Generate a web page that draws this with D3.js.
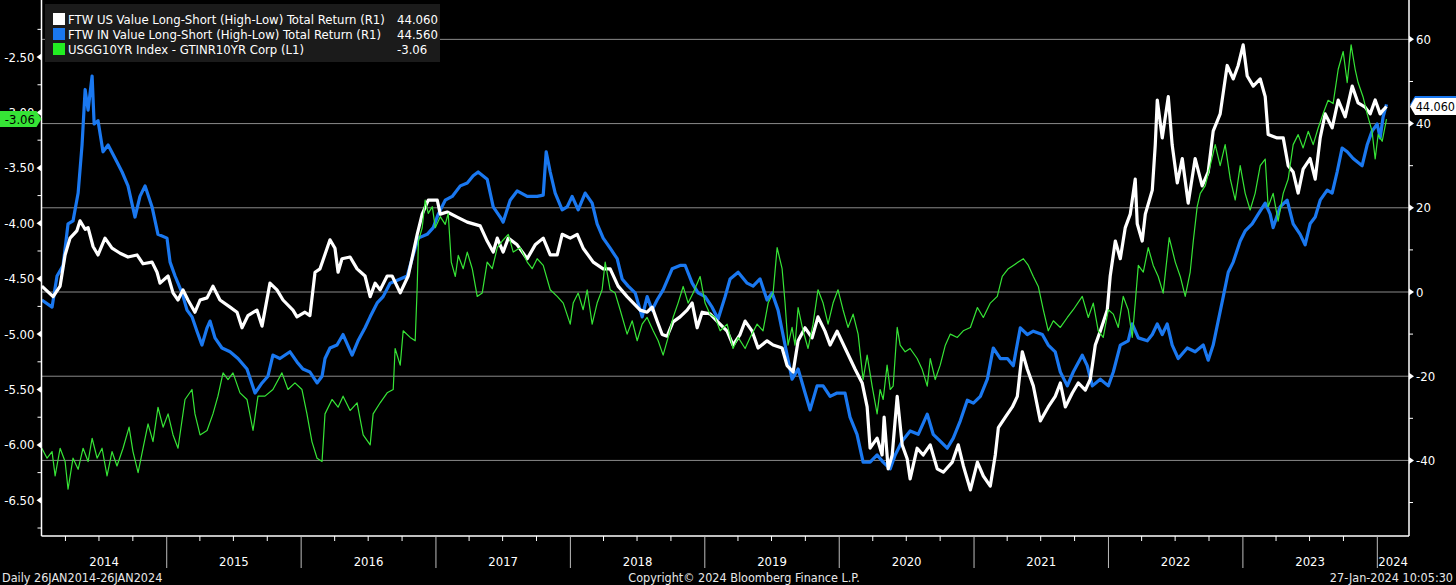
<!DOCTYPE html>
<html>
<head>
<meta charset="utf-8">
<script src="https://cdn.jsdelivr.net/npm/d3@7"></script>
<style>
  html, body { margin: 0; padding: 0; background: #000; }
  svg { display: block; font-family: "DejaVu Sans Condensed", "DejaVu Sans", sans-serif; font-stretch: condensed; }
</style>
</head>
<body>
<script>
// series values, [decimal year, value]
var usData = [
  [2014.071,1.4],[2014.155,-1.1],[2014.207,1.4],[2014.244,8.8],[2014.281,12.8],[2014.331,14.5],[2014.355,16.9],[2014.393,14.9],[2014.415,15.3],[2014.452,10.8],[2014.489,8.8],[2014.541,12.8],[2014.593,10.4],[2014.653,9.2],[2014.712,8.3],[2014.779,8.8],[2014.824,6.7],[2014.891,7.1],[2014.928,4.7],[2014.950,2.1],
  [2015.010,3.8],[2015.047,-0.2],[2015.084,-1.9],[2015.121,0.5],[2015.158,-1.9],[2015.210,-4.8],[2015.248,-1.9],[2015.300,-1.4],[2015.344,1.4],[2015.396,-1.9],[2015.471,-3.6],[2015.523,-4.8],[2015.560,-8.5],[2015.604,-5.6],[2015.671,-4.3],[2015.709,-8.1],[2015.768,2.1],[2015.820,0.5],[2015.865,-1.9],[2015.939,-4.3],[2015.969,-5.9],
  [2016.028,-4.8],[2016.065,-5.6],[2016.103,4.7],[2016.140,5.5],[2016.214,12.4],[2016.251,10.4],[2016.274,4.7],[2016.303,7.9],[2016.363,8.3],[2016.415,5.5],[2016.474,3.8],[2016.512,-1.1],[2016.549,2.1],[2016.586,0.5],[2016.638,3.8],[2016.675,3.8],[2016.735,-0.2],[2016.794,3.8],[2016.861,13.7],[2016.898,18.5],[2016.943,21.8],
  [2017.010,21.8],[2017.032,18.5],[2017.084,19.0],[2017.158,17.8],[2017.233,16.6],[2017.329,15.7],[2017.381,12.1],[2017.426,9.5],[2017.456,12.8],[2017.500,9.5],[2017.538,12.8],[2017.604,11.2],[2017.679,7.9],[2017.738,11.2],[2017.798,12.8],[2017.850,8.8],[2017.902,8.8],[2017.939,13.7],[2017.999,12.8],
  [2018.051,13.7],[2018.095,10.4],[2018.170,7.1],[2018.244,5.5],[2018.296,5.5],[2018.355,1.4],[2018.422,-1.1],[2018.467,-2.6],[2018.519,-4.3],[2018.571,-4.8],[2018.608,-3.6],[2018.645,-6.9],[2018.683,-10.1],[2018.720,-10.5],[2018.764,-7.1],[2018.816,-5.9],[2018.868,-4.3],[2018.906,-2.6],[2018.943,-8.5],[2018.980,-4.8],
  [2019.039,-5.2],[2019.091,-6.9],[2019.166,-9.3],[2019.210,-12.6],[2019.262,-10.1],[2019.300,-6.9],[2019.352,-9.3],[2019.396,-13.3],[2019.463,-11.6],[2019.508,-12.6],[2019.575,-13.3],[2019.612,-17.5],[2019.657,-19.0],[2019.694,-11.6],[2019.746,-8.5],[2019.798,-10.9],[2019.842,-5.9],[2019.894,-9.3],[2019.932,-12.6],[2019.984,-9.3],
  [2020.043,-13.3],[2020.117,-18.3],[2020.170,-21.6],[2020.207,-27.3],[2020.229,-37.1],[2020.281,-34.7],[2020.318,-38.7],[2020.333,-29.7],[2020.363,-42.0],[2020.393,-38.7],[2020.430,-24.8],[2020.467,-36.3],[2020.504,-39.6],[2020.526,-44.4],[2020.578,-37.1],[2020.623,-38.7],[2020.675,-36.3],[2020.727,-42.0],[2020.772,-42.8],[2020.839,-40.4],[2020.883,-36.3],[2020.920,-41.2],[2020.973,-47.0],
  [2021.025,-40.4],[2021.069,-43.7],[2021.121,-46.1],[2021.158,-38.7],[2021.181,-32.2],[2021.233,-29.7],[2021.285,-27.3],[2021.322,-24.8],[2021.359,-14.2],[2021.396,-18.3],[2021.441,-22.3],[2021.493,-30.6],[2021.552,-27.3],[2021.604,-24.8],[2021.642,-21.6],[2021.679,-27.3],[2021.731,-24.0],[2021.775,-21.6],[2021.828,-23.3],[2021.865,-20.7],[2021.902,-12.6],[2021.939,-9.3],[2021.991,-4.3],
  [2022.013,3.8],[2022.051,12.1],[2022.088,7.9],[2022.125,15.3],[2022.162,18.5],[2022.199,26.8],[2022.214,16.2],[2022.251,12.1],[2022.274,18.5],[2022.326,24.2],[2022.348,34.9],[2022.363,45.6],[2022.400,36.6],[2022.445,46.4],[2022.474,34.9],[2022.512,25.9],[2022.549,31.7],[2022.593,21.1],[2022.645,31.7],[2022.697,25.2],[2022.742,28.5],[2022.779,38.2],[2022.831,42.3],[2022.883,53.8],[2022.928,50.6],[2022.965,53.8],
  [2023.002,58.7],[2023.032,51.3],[2023.077,48.9],[2023.129,50.6],[2023.166,46.4],[2023.188,37.4],[2023.255,36.6],[2023.300,36.6],[2023.337,30.0],[2023.374,28.5],[2023.411,23.5],[2023.448,29.2],[2023.500,31.7],[2023.538,26.8],[2023.575,36.6],[2023.612,42.3],[2023.664,39.0],[2023.709,45.6],[2023.761,41.6],[2023.813,48.9],[2023.857,44.9],[2023.909,43.9],[2023.947,42.3],[2023.984,45.6],
  [2024.021,42.3],[2024.043,43.2],[2024.068,44.06]
];

var inData = [
  [2014.071,-1.9],[2014.147,-3.6],[2014.184,3.8],[2014.229,6.3],[2014.266,16.2],[2014.303,16.9],[2014.341,23.5],[2014.370,34.9],[2014.393,48.1],[2014.415,43.2],[2014.445,51.3],[2014.460,39.9],[2014.489,40.7],[2014.526,33.3],[2014.564,34.9],[2014.630,30.9],[2014.668,28.5],[2014.712,25.2],[2014.764,17.8],[2014.801,22.7],[2014.839,25.2],[2014.891,20.2],[2014.935,13.7],
  [2015.002,12.8],[2015.025,7.1],[2015.062,3.8],[2015.114,-0.2],[2015.151,-4.3],[2015.188,-5.9],[2015.225,-9.3],[2015.262,-12.6],[2015.300,-8.5],[2015.322,-6.9],[2015.359,-10.9],[2015.411,-13.3],[2015.471,-14.2],[2015.530,-15.8],[2015.597,-18.3],[2015.657,-24.0],[2015.709,-21.6],[2015.753,-20.0],[2015.790,-15.0],[2015.842,-15.8],[2015.917,-14.2],[2015.969,-16.6],
  [2016.013,-18.3],[2016.065,-19.0],[2016.118,-21.6],[2016.155,-20.0],[2016.177,-15.8],[2016.214,-13.3],[2016.266,-12.6],[2016.311,-10.1],[2016.378,-15.0],[2016.422,-11.6],[2016.474,-8.5],[2016.512,-5.9],[2016.564,-2.6],[2016.608,-1.1],[2016.660,2.1],[2016.735,3.1],[2016.787,3.8],[2016.831,8.8],[2016.868,12.8],[2016.935,13.7],[2016.980,15.3],
  [2017.017,18.5],[2017.069,21.8],[2017.121,22.7],[2017.181,25.2],[2017.233,25.9],[2017.277,27.6],[2017.314,28.5],[2017.381,26.8],[2017.426,20.2],[2017.478,17.8],[2017.500,16.6],[2017.552,21.8],[2017.604,24.0],[2017.679,22.7],[2017.753,22.7],[2017.798,23.0],[2017.820,33.3],[2017.850,28.5],[2017.887,23.5],[2017.939,19.5],[2017.976,20.2],
  [2018.013,22.7],[2018.058,19.5],[2018.110,23.5],[2018.162,21.1],[2018.199,16.2],[2018.244,12.8],[2018.296,10.4],[2018.348,7.9],[2018.385,3.1],[2018.430,1.4],[2018.482,-0.2],[2018.534,-5.9],[2018.571,-1.1],[2018.608,-4.3],[2018.645,-1.9],[2018.690,0.5],[2018.757,5.5],[2018.816,6.3],[2018.854,6.3],[2018.906,2.1],[2018.950,-0.2],
  [2019.002,-1.1],[2019.054,-3.6],[2019.099,-6.4],[2019.151,-1.1],[2019.188,3.1],[2019.248,4.7],[2019.315,2.1],[2019.359,1.4],[2019.411,3.1],[2019.463,-1.9],[2019.500,-0.2],[2019.545,-4.3],[2019.597,-12.6],[2019.649,-20.7],[2019.694,-18.3],[2019.746,-24.0],[2019.783,-28.0],[2019.835,-22.3],[2019.880,-22.3],[2019.932,-24.8],[2019.984,-24.0],
  [2020.043,-24.0],[2020.080,-29.7],[2020.132,-33.8],[2020.177,-40.4],[2020.229,-40.4],[2020.281,-38.7],[2020.326,-40.4],[2020.378,-42.0],[2020.415,-38.7],[2020.467,-35.4],[2020.526,-33.0],[2020.586,-33.8],[2020.653,-29.0],[2020.697,-33.8],[2020.749,-35.4],[2020.801,-37.1],[2020.846,-34.7],[2020.898,-30.6],[2020.950,-25.7],[2020.995,-26.4],
  [2021.047,-24.8],[2021.099,-20.7],[2021.143,-13.3],[2021.196,-15.8],[2021.248,-15.8],[2021.292,-17.5],[2021.344,-8.5],[2021.396,-10.1],[2021.441,-9.3],[2021.508,-10.1],[2021.552,-12.6],[2021.604,-14.2],[2021.642,-19.0],[2021.694,-22.3],[2021.738,-19.0],[2021.805,-15.0],[2021.842,-17.5],[2021.880,-22.3],[2021.939,-20.7],[2021.999,-22.3],
  [2022.036,-19.0],[2022.088,-12.6],[2022.147,-11.6],[2022.177,-7.6],[2022.222,-10.9],[2022.289,-11.6],[2022.326,-10.1],[2022.363,-7.6],[2022.400,-10.1],[2022.437,-7.6],[2022.474,-12.6],[2022.519,-15.8],[2022.586,-13.3],[2022.645,-14.2],[2022.705,-12.6],[2022.742,-16.2],[2022.779,-12.6],[2022.816,-6.9],[2022.854,-1.1],[2022.891,4.7],[2022.928,7.1],[2022.980,12.1],
  [2023.017,14.5],[2023.069,16.2],[2023.114,18.5],[2023.166,21.1],[2023.203,18.5],[2023.225,15.3],[2023.277,20.2],[2023.329,21.8],[2023.374,16.2],[2023.426,13.7],[2023.463,11.2],[2023.500,16.2],[2023.538,17.8],[2023.575,21.8],[2023.627,24.2],[2023.664,23.5],[2023.701,28.5],[2023.738,34.2],[2023.776,33.3],[2023.820,31.7],[2023.887,30.0],[2023.924,34.9],[2023.961,38.2],[2023.999,39.9],
  [2024.021,36.6],[2024.043,41.6],[2024.068,44.56]
];

var yieldData = [
  [2014.071,-6.03],[2014.110,-6.12],[2014.147,-6.06],[2014.170,-6.28],[2014.207,-6.03],[2014.244,-6.15],[2014.266,-6.40],[2014.303,-6.12],[2014.341,-6.22],[2014.378,-6.03],[2014.415,-6.15],[2014.445,-5.94],[2014.482,-6.12],[2014.519,-6.03],[2014.556,-6.28],[2014.593,-6.06],[2014.630,-6.19],[2014.675,-6.03],[2014.720,-5.84],[2014.749,-6.06],[2014.787,-6.25],[2014.824,-6.03],[2014.861,-5.81],[2014.898,-5.97],[2014.935,-5.66],[2014.973,-5.84],
  [2015.010,-5.72],[2015.047,-5.91],[2015.084,-6.03],[2015.136,-5.59],[2015.188,-5.50],[2015.210,-5.72],[2015.248,-5.91],[2015.300,-5.87],[2015.344,-5.72],[2015.381,-5.56],[2015.419,-5.35],[2015.456,-5.41],[2015.493,-5.35],[2015.545,-5.53],[2015.597,-5.59],[2015.642,-5.87],[2015.679,-5.56],[2015.731,-5.56],[2015.790,-5.50],[2015.857,-5.35],[2015.902,-5.50],[2015.954,-5.44],
  [2016.006,-5.50],[2016.043,-5.72],[2016.080,-5.97],[2016.118,-6.12],[2016.155,-6.15],[2016.177,-5.72],[2016.229,-5.59],[2016.274,-5.66],[2016.311,-5.56],[2016.363,-5.69],[2016.415,-5.62],[2016.460,-5.91],[2016.512,-6.00],[2016.534,-5.72],[2016.586,-5.62],[2016.638,-5.53],[2016.683,-5.50],[2016.697,-5.13],[2016.735,-5.28],[2016.757,-4.97],[2016.809,-5.03],[2016.846,-5.06],[2016.861,-4.57],[2016.870,-4.16],[2016.898,-4.04],[2016.920,-3.79],[2016.943,-3.91],[2016.973,-3.85],[2016.995,-4.04],
  [2017.032,-3.94],[2017.069,-4.01],[2017.091,-3.91],[2017.114,-4.35],[2017.144,-4.48],[2017.166,-4.29],[2017.203,-4.41],[2017.233,-4.26],[2017.270,-4.41],[2017.307,-4.66],[2017.344,-4.63],[2017.381,-4.35],[2017.419,-4.41],[2017.456,-4.22],[2017.493,-4.16],[2017.538,-4.10],[2017.575,-4.26],[2017.627,-4.22],[2017.679,-4.35],[2017.716,-4.41],[2017.753,-4.32],[2017.798,-4.38],[2017.850,-4.60],[2017.902,-4.66],[2017.947,-4.72],[2017.999,-4.91],
  [2018.021,-4.72],[2018.058,-4.63],[2018.095,-4.78],[2018.125,-4.60],[2018.162,-4.91],[2018.199,-4.72],[2018.236,-4.60],[2018.259,-4.35],[2018.296,-4.60],[2018.333,-4.63],[2018.370,-4.78],[2018.422,-5.00],[2018.460,-4.88],[2018.497,-5.06],[2018.534,-4.91],[2018.571,-4.85],[2018.616,-4.97],[2018.653,-5.06],[2018.690,-5.19],[2018.727,-5.03],[2018.764,-4.85],[2018.801,-4.72],[2018.839,-4.57],[2018.876,-4.72],[2018.913,-4.63],[2018.965,-4.48],
  [2019.002,-4.72],[2019.039,-4.82],[2019.077,-4.85],[2019.114,-4.97],[2019.166,-4.91],[2019.210,-5.13],[2019.248,-5.03],[2019.300,-5.13],[2019.337,-5.03],[2019.389,-4.91],[2019.433,-4.97],[2019.471,-4.72],[2019.508,-4.63],[2019.538,-4.22],[2019.575,-4.41],[2019.597,-4.72],[2019.619,-5.10],[2019.649,-4.94],[2019.671,-5.10],[2019.694,-4.76],[2019.731,-4.97],[2019.768,-5.13],[2019.805,-4.91],[2019.842,-4.60],[2019.880,-4.72],[2019.917,-4.91],[2019.954,-4.72],[2019.991,-4.60],
  [2020.028,-4.78],[2020.065,-4.94],[2020.103,-4.82],[2020.140,-5.00],[2020.177,-5.41],[2020.207,-5.19],[2020.244,-5.47],[2020.281,-5.72],[2020.303,-5.50],[2020.326,-5.59],[2020.355,-5.28],[2020.378,-5.50],[2020.400,-5.47],[2020.430,-4.94],[2020.452,-5.10],[2020.489,-5.16],[2020.526,-5.13],[2020.578,-5.22],[2020.616,-5.32],[2020.653,-5.47],[2020.675,-5.22],[2020.712,-5.41],[2020.749,-5.28],[2020.787,-5.10],[2020.824,-5.00],[2020.876,-5.03],[2020.920,-4.97],[2020.973,-4.94],
  [2021.025,-4.76],[2021.069,-4.85],[2021.121,-4.72],[2021.173,-4.66],[2021.210,-4.48],[2021.255,-4.41],[2021.292,-4.38],[2021.329,-4.35],[2021.367,-4.32],[2021.404,-4.38],[2021.441,-4.48],[2021.478,-4.57],[2021.515,-4.78],[2021.552,-4.97],[2021.590,-4.88],[2021.642,-4.94],[2021.694,-4.85],[2021.738,-4.78],[2021.805,-4.66],[2021.850,-4.85],[2021.887,-4.72],[2021.924,-4.97],[2021.961,-5.03],[2021.999,-4.78],
  [2022.036,-4.82],[2022.073,-4.94],[2022.110,-4.66],[2022.147,-4.78],[2022.177,-5.03],[2022.199,-4.72],[2022.222,-4.38],[2022.259,-4.44],[2022.296,-4.22],[2022.333,-4.38],[2022.370,-4.48],[2022.407,-4.63],[2022.452,-4.13],[2022.497,-4.35],[2022.534,-4.48],[2022.571,-4.66],[2022.608,-4.44],[2022.631,-4.16],[2022.660,-3.85],[2022.683,-3.73],[2022.720,-3.66],[2022.757,-3.48],[2022.794,-3.29],[2022.831,-3.48],[2022.868,-3.29],[2022.906,-3.60],[2022.943,-3.79],[2022.980,-3.48],
  [2023.017,-3.73],[2023.054,-3.88],[2023.091,-3.73],[2023.129,-3.48],[2023.166,-3.42],[2023.188,-3.85],[2023.225,-3.73],[2023.262,-3.98],[2023.300,-3.73],[2023.337,-3.60],[2023.374,-3.29],[2023.411,-3.20],[2023.448,-3.32],[2023.486,-3.17],[2023.523,-3.29],[2023.560,-3.14],[2023.597,-3.01],[2023.634,-2.89],[2023.671,-2.92],[2023.709,-2.61],[2023.746,-2.45],[2023.776,-2.73],[2023.805,-2.39],[2023.835,-2.61],[2023.857,-2.73],[2023.894,-2.86],[2023.924,-3.01],[2023.961,-3.17],[2023.984,-3.42],
  [2024.006,-3.20],[2024.036,-3.26],[2024.068,-3.06]
];

// legend and axis text
var legendNames = [
  "FTW US Value Long-Short (High-Low) Total Return (R1)",
  "FTW IN Value Long-Short (High-Low) Total Return (R1)",
  "USGG10YR Index - GTINR10YR Corp (L1)"
];
var legendValues = ["44.060", "44.560", "-3.06"];
var leftTicks = [-2.5, -3.0, -3.5, -4.0, -4.5, -5.0, -5.5, -6.0, -6.5];
var leftMinor = [-2.25, -2.75, -3.25, -3.75, -4.25, -4.75, -5.25, -5.75, -6.25, -6.75];
var rightTicks = [60, 40, 20, 0, -20, -40];
var rightMinor = [50, 30, 10, -10, -30, -50];
var years = [2014, 2015, 2016, 2017, 2018, 2019, 2020, 2021, 2022, 2023, 2024];

var width = 1456, height = 585;
var plot = {left: 41.5, right: 1409, top: 0, bottom: 536};
var colors = {us: "#ffffff", india: "#1a78f0", yield: "#36e436"};

var fmt = d3.formatLocale({decimal: ".", thousands: ",", grouping: [3], currency: ["", ""], minus: "-"});
var f2 = fmt.format(".2f"), f0 = fmt.format("d");

function toDate(y) {
  var yr = Math.floor(y);
  var a = new Date(yr, 0, 1), b = new Date(yr + 1, 0, 1);
  return new Date(+a + (y - yr) * (b - a));
}

var x = d3.scaleTime()
    .domain([new Date(2014, 0, 26), new Date(2024, 2, 27)])
    .range([plot.left, plot.right]);
var yL = d3.scaleLinear().domain([-6.822, -1.985]).range([plot.bottom, plot.top]);
var yR = d3.scaleLinear().domain([-57.95, 69.35]).range([plot.bottom, plot.top]);

var svg = d3.select("body").append("svg")
    .attr("width", width)
    .attr("height", height);

svg.append("rect").attr("width", width).attr("height", height).attr("fill", "#000");

// grid lines follow the right axis
svg.append("g").selectAll("line")
  .data(rightTicks)
  .enter().append("line")
    .attr("x1", plot.left).attr("x2", plot.right)
    .attr("y1", function(d) { return yR(d); })
    .attr("y2", function(d) { return yR(d); })
    .attr("stroke", "#8a8a8a")
    .attr("stroke-width", 1);

// series
var lineR = d3.line()
    .x(function(d) { return x(toDate(d[0])); })
    .y(function(d) { return yR(d[1]); });
var lineL = d3.line()
    .x(function(d) { return x(toDate(d[0])); })
    .y(function(d) { return yL(d[1]); });

var lines = svg.append("g").attr("fill", "none").attr("stroke-linejoin", "round");
lines.append("path").attr("d", lineR(inData)).attr("stroke", colors.india).attr("stroke-width", 3.2);
lines.append("path").attr("d", lineR(usData)).attr("stroke", colors.us).attr("stroke-width", 3.2);
lines.append("path").attr("d", lineL(yieldData)).attr("stroke", colors.yield).attr("stroke-width", 1.2);

// axis frame
var axes = svg.append("g").attr("stroke", "#fff").attr("stroke-width", 1.5);
axes.append("line").attr("x1", plot.left).attr("x2", plot.left).attr("y1", plot.top).attr("y2", plot.bottom);
axes.append("line").attr("x1", plot.right).attr("x2", plot.right).attr("y1", plot.top).attr("y2", plot.bottom);
axes.append("line").attr("x1", plot.left).attr("x2", plot.right).attr("y1", plot.bottom).attr("y2", plot.bottom);

// left axis
var left = svg.append("g");
left.selectAll(".minor").data(leftMinor).enter().append("line")
    .attr("x1", plot.left - 4).attr("x2", plot.left)
    .attr("y1", function(d) { return yL(d); }).attr("y2", function(d) { return yL(d); })
    .attr("stroke", "#fff");
left.selectAll(".tri").data(leftTicks).enter().append("path")
    .attr("d", function(d) { var y = yL(d); return "M" + plot.left + "," + (y - 3.5) + "L" + (plot.left - 5) + "," + y + "L" + plot.left + "," + (y + 3.5) + "Z"; })
    .attr("fill", "#fff");
left.selectAll("text").data(leftTicks).enter().append("text")
    .attr("x", plot.left - 7).attr("y", function(d) { return yL(d); })
    .attr("dy", "0.35em").attr("text-anchor", "end")
    .attr("fill", "#fff").attr("font-size", 13)
    .text(function(d) { return f2(d); });

// right axis
var right = svg.append("g");
right.selectAll(".minor").data(rightMinor).enter().append("line")
    .attr("x1", plot.right).attr("x2", plot.right + 4)
    .attr("y1", function(d) { return yR(d); }).attr("y2", function(d) { return yR(d); })
    .attr("stroke", "#fff");
right.selectAll(".tri").data(rightTicks).enter().append("path")
    .attr("d", function(d) { var y = yR(d); return "M" + plot.right + "," + (y - 3.5) + "L" + (plot.right + 5) + "," + y + "L" + plot.right + "," + (y + 3.5) + "Z"; })
    .attr("fill", "#fff");
right.selectAll("text").data(rightTicks).enter().append("text")
    .attr("x", plot.right + 7).attr("y", function(d) { return yR(d); })
    .attr("dy", "0.35em").attr("text-anchor", "start")
    .attr("fill", "#fff").attr("font-size", 13)
    .text(function(d) { return f0(d); });

// bottom axis: quarter ticks, year dividers, year labels
var quarters = d3.timeMonth.every(3).range(x.domain()[0], x.domain()[1])
    .filter(function(d) { return d.getMonth() !== 0; });
svg.append("g").selectAll("line").data(quarters).enter().append("line")
    .attr("x1", function(d) { return x(d); }).attr("x2", function(d) { return x(d); })
    .attr("y1", plot.bottom).attr("y2", plot.bottom + 5)
    .attr("stroke", "#fff");
var yearStarts = years.slice(1).map(function(y) { return new Date(y, 0, 1); });
svg.append("g").selectAll("line").data(yearStarts).enter().append("line")
    .attr("x1", function(d) { return x(d); }).attr("x2", function(d) { return x(d); })
    .attr("y1", plot.bottom).attr("y2", plot.bottom + 32)
    .attr("stroke", "#bdbdbd").attr("stroke-width", 1);
svg.append("g").selectAll("text").data(years).enter().append("text")
    .attr("x", function(d) {
      var a = Math.max(x(new Date(d, 0, 1)), plot.left);
      var b = Math.min(x(new Date(d + 1, 0, 1)), plot.right);
      return (a + b) / 2;
    })
    .attr("y", 561).attr("dy", "0.35em").attr("text-anchor", "middle")
    .attr("fill", "#fff").attr("font-size", 13)
    .text(function(d) { return d; });

// footer
var foot = svg.append("g").attr("fill", "#e8e8e8").attr("font-size", 12.5);
foot.append("text").attr("x", 2).attr("y", 578).attr("dy", "0.35em").text("Daily 26JAN2014-26JAN2024");
foot.append("text").attr("x", 744).attr("y", 578).attr("dy", "0.35em").attr("text-anchor", "middle").text("Copyright\u00A9 2024 Bloomberg Finance L.P.");
foot.append("text").attr("x", 1453).attr("y", 578).attr("dy", "0.35em").attr("text-anchor", "end").text("27-Jan-2024 10:05:30");

// last value tags
var yG = yL(yieldData[yieldData.length - 1][1]);
svg.append("path")
    .attr("d", "M" + plot.left + "," + yG + "L" + (plot.left - 5) + "," + (yG - 8) + "L0," + (yG - 8) + "L0," + (yG + 8) + "L" + (plot.left - 5) + "," + (yG + 8) + "Z")
    .attr("fill", colors.yield);
svg.append("text").attr("x", 35).attr("y", yG).attr("dy", "0.35em").attr("text-anchor", "end")
    .attr("fill", "#000").attr("font-size", 13).text(legendValues[2]);

function tag(y, fill) {
  return svg.append("path")
    .attr("d", "M" + (plot.right + 1) + "," + y + "L" + (plot.right + 6) + "," + (y - 8.5) + "L" + width + "," + (y - 8.5) + "L" + width + "," + (y + 8.5) + "L" + (plot.right + 6) + "," + (y + 8.5) + "Z")
    .attr("fill", fill);
}
var yIn = yR(inData[inData.length - 1][1]), yUs = yR(usData[usData.length - 1][1]);
tag(yIn, colors.india);
tag(yUs, "#fff");
svg.append("text").attr("x", width - 1).attr("y", yUs).attr("dy", "0.35em").attr("text-anchor", "end")
    .attr("fill", "#000").attr("font-size", 12.5).text(legendValues[0]);

// legend
var legend = svg.append("g");
legend.append("rect").attr("x", 45).attr("y", 4).attr("width", 395).attr("height", 58).attr("fill", "#1b1b1b");
var swatch = [colors.us, colors.india, "#22ee22"];
var rows = legend.selectAll(".row").data(legendNames).enter().append("g")
    .attr("transform", function(d, i) { return "translate(0," + (19 + i * 15) + ")"; });
rows.append("rect").attr("x", 53).attr("y", -6).attr("width", 12).attr("height", 12)
    .attr("fill", function(d, i) { return swatch[i]; });
rows.append("text").attr("x", 68).attr("dy", "0.35em").attr("fill", "#fff").attr("font-size", 13)
    .text(function(d) { return d; });
rows.append("text").attr("x", 397).attr("dy", "0.35em").attr("fill", "#fff").attr("font-size", 13)
    .text(function(d, i) { return legendValues[i]; });
</script>
</body>
</html>
